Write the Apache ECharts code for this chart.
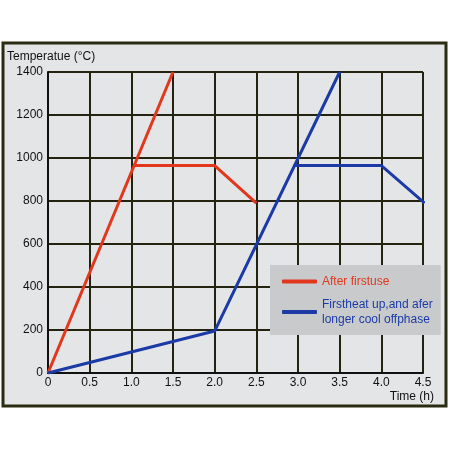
<!DOCTYPE html>
<html>
<head>
<meta charset="utf-8">
<script src="https://cdn.jsdelivr.net/npm/echarts@6/dist/echarts.min.js"></script>
<style>
  html, body { margin: 0; padding: 0; background: #fff; }
  #chart { width: 450px; height: 450px; }
</style>
</head>
<body>
<div id="chart"></div>
<script>
// 数据
var xTicks = [0, 0.5, 1.0, 1.5, 2.0, 2.5, 3.0, 3.5, 4.0, 4.5];
var yTicks = [0, 200, 400, 600, 800, 1000, 1200, 1400];
var redRise = [[0, 0], [1.5, 1400]];
var redHold = [[1.03, 965], [2.0, 965], [2.5, 790]];
var blueRise = [[0, 0], [2.0, 195], [3.5, 1400]];
var blueHold = [[2.95, 965], [4.0, 965], [4.52, 790]];
var names = ['After firstuse', 'Firstheat up,and afer\nlonger cool offphase'];

var red = '#e2371c';
var blue = '#1b3aa6';
var gridColor = '#23230f';

var chart = echarts.init(document.getElementById('chart'));

function lineSeries(name, data, color) {
  return {
    name: name,
    type: 'line',
    data: data,
    symbol: 'none',
    lineStyle: { color: color, width: 3 },
    itemStyle: { color: color },
    z: 5
  };
}

var option = {
  backgroundColor: '#fff',
  animation: false,
  textStyle: { fontFamily: 'Liberation Sans, Arial, sans-serif' },
  graphic: [
    {
      type: 'rect',
      shape: { x: 3, y: 43, width: 443, height: 363 },
      style: { fill: '#e3e5e7', stroke: '#2b2b12', lineWidth: 3 },
      z: -10
    },
    {
      type: 'text',
      left: 7, top: 51,
      style: { text: 'Temperatue (°C)', fontSize: 12, fill: '#111', font: '12px Liberation Sans' }
    },
    {
      type: 'text',
      right: 16, top: 391,
      style: { text: 'Time (h)', fontSize: 12, fill: '#111', font: '12px Liberation Sans' }
    }
  ],
  grid: { left: 48, right: 27, top: 72, bottom: 77 },
  legend: {
    orient: 'vertical',
    left: 270, top: 265,
    backgroundColor: '#c8cacc',
    padding: [9, 8, 8, 12],
    itemGap: 8,
    itemWidth: 35,
    itemHeight: 4,
    icon: 'roundRect',
    data: [
      { name: names[0], textStyle: { color: red } },
      { name: names[1], textStyle: { color: blue } }
    ],
    textStyle: { fontSize: 12, lineHeight: 15 }
  },
  xAxis: {
    type: 'value',
    min: 0, max: 4.5, interval: 0.5,
    axisLine: { lineStyle: { color: '#111', width: 2 } },
    axisTick: { show: false },
    axisLabel: {
      color: '#111', fontSize: 12, margin: 4,
      formatter: function (v) {
        var i = xTicks.indexOf(v);
        return i === 0 ? '0' : xTicks[i].toFixed(1);
      }
    },
    splitLine: { show: true, lineStyle: { color: gridColor, width: 2 } }
  },
  yAxis: {
    type: 'value',
    min: 0, max: 1400, interval: 200,
    axisLine: { show: true, lineStyle: { color: '#111', width: 2 } },
    axisTick: { show: false },
    axisLabel: {
      color: '#111', fontSize: 12, margin: 5,
      formatter: function (v) { return yTicks.indexOf(v) >= 0 ? String(v) : ''; }
    },
    splitLine: { show: true, lineStyle: { color: gridColor, width: 2 } }
  },
  series: [
    lineSeries(names[0], redRise, red),
    lineSeries(names[0], redHold, red),
    lineSeries(names[1], blueRise, blue),
    lineSeries(names[1], blueHold, blue)
  ]
};

chart.setOption(option);
</script>
</body>
</html>
